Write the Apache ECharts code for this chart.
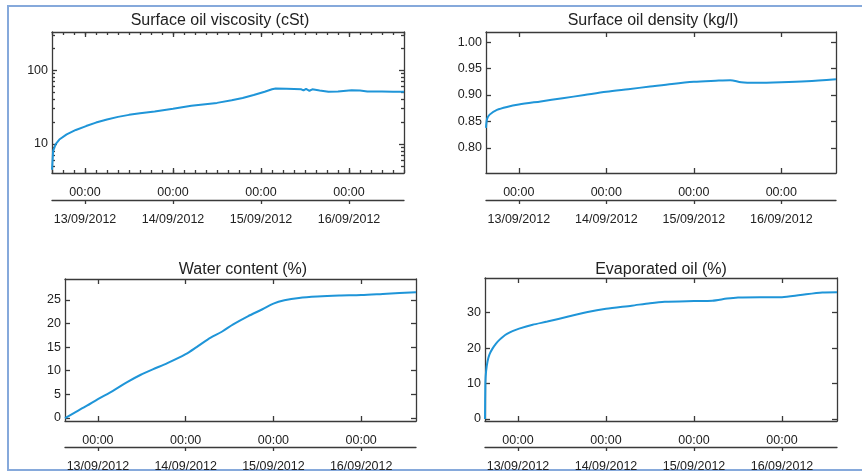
<!DOCTYPE html>
<html>
<head>
<meta charset="utf-8">
<script src="https://cdn.jsdelivr.net/npm/echarts@6/dist/echarts.min.js"></script>
<style>html,body{margin:0;padding:0;background:#fff}#c{width:862px;height:473px}</style>
</head>
<body>
<div id="c"></div>
<script>
// ---------- data ----------
const titles = ['Surface oil viscosity (cSt)', 'Surface oil density (kg/l)', 'Water content (%)', 'Evaporated oil (%)'];
const startDate = [2012, 9, 12, 15];      // 12/09/2012 15:00
const spanHours = 96;                     // until 16/09/2012 15:00
const dayTicks = ['2012-09-13', '2012-09-14', '2012-09-15', '2012-09-16'];

const viscHours  = [0, 0.3, 1, 2, 4, 6.5, 9.3, 12, 15, 18, 21, 24, 28, 33, 38, 45, 49, 52, 55, 58, 60, 61, 64, 66, 68, 68.6, 69.3, 70.2, 71, 73, 75.4, 78, 81.7, 84, 86, 90, 93, 96];
const viscValues = [4.5, 8, 10, 11.5, 13.5, 15.5, 17.5, 19.5, 21.5, 23.3, 24.8, 26, 27.5, 30, 33, 36, 39, 42, 46, 51, 55, 56.5, 56, 55.5, 55, 53, 55.5, 52.5, 55, 53, 51, 51.5, 53.5, 53, 51.5, 51.5, 51, 51];
const viscTicks  = [10, 100];
const viscMinorTicks = [5, 6, 7, 8, 9, 20, 30, 40, 50, 60, 70, 80, 90, 200, 300];

const densHours  = [0, 0.3, 1, 3, 6, 9, 15, 21, 27, 33, 39, 45, 51, 57, 63, 67, 70, 74, 81, 88, 96];
const densValues = [0.838, 0.855, 0.863, 0.872, 0.878, 0.882, 0.888, 0.894, 0.900, 0.906, 0.911, 0.916, 0.921, 0.925, 0.927, 0.928, 0.924, 0.923, 0.924, 0.926, 0.930];
const densTicks  = [0.80, 0.85, 0.90, 0.95, 1.00];

const waterHours  = [0, 3, 6, 9, 13, 17, 20.6, 24, 28, 33, 36, 39, 43, 46, 50, 54, 57, 60, 64, 69, 75, 81, 88, 96];
const waterValues = [0, 1.3, 2.6, 4.0, 5.7, 7.6, 9.1, 10.3, 11.6, 13.5, 15.0, 16.6, 18.3, 19.8, 21.5, 23.0, 24.2, 24.9, 25.4, 25.7, 25.9, 26.0, 26.3, 26.6];
const waterTicks  = [0, 5, 10, 15, 20, 25];

const evapHours  = [0, 0.1, 0.3, 0.7, 1.2, 2, 3, 4, 5, 6, 7.5, 9.3, 13, 17, 23, 28, 33, 40, 45, 49, 57, 62, 66, 69, 75, 81, 86, 92, 96];
const evapValues = [0, 10, 13.5, 16.3, 18.2, 19.8, 21.3, 22.4, 23.3, 24, 24.8, 25.5, 26.6, 27.5, 29, 30.2, 31.1, 32, 32.7, 33.1, 33.3, 33.4, 34.0, 34.3, 34.4, 34.4, 35.0, 35.7, 35.8];
const evapTicks  = [0, 10, 20, 30];

// ---------- helpers ----------
const HOUR = 3600 * 1000;
const START = new Date(startDate[0], startDate[1] - 1, startDate[2], startDate[3]).getTime();
const END = START + spanHours * HOUR;
const toTs = h => START + h * HOUR;
const dayTickMs = dayTicks.map(s => { const p = s.split('-').map(Number); return new Date(p[0], p[1] - 1, p[2]).getTime(); });
const minorXTicks = [];
for (let h = 0; h <= spanHours; h += 3) minorXTicks.push(toTs(h));
const pad = n => (n < 10 ? '0' : '') + n;
const fmtTime = v => { const d = new Date(v); return pad(d.getHours()) + ':' + pad(d.getMinutes()); };
const fmtDate = v => { const d = new Date(v); return pad(d.getDate()) + '/' + pad(d.getMonth() + 1) + '/' + d.getFullYear(); };

const FONT = 'Liberation Sans, Arial, Helvetica, sans-serif';
const TEXT = '#222';
const AXIS = '#3a3a3a';
const LINE = '#1f95d8';

const panels = [
  { grid: {left: 52, top: 32, width: 352, height: 141}, titleX: 220, titleY: 13, hours: viscHours, values: viscValues,
    yType: 'log', yMin: 4.06, yMax: 327, yTicks: viscTicks, yMinor: viscMinorTicks, xMinor: true, dateOffset: 27, fmt: v => String(v), smooth: false },
  { grid: {left: 486, top: 32, width: 350, height: 141}, titleX: 653, titleY: 13, hours: densHours, values: densValues,
    yType: 'value', yMin: 0.7528, yMax: 1.019, yTicks: densTicks, yMinor: null, xMinor: false, dateOffset: 27, fmt: v => v.toFixed(2), smooth: 0.3 },
  { grid: {left: 65, top: 279, width: 351, height: 143}, titleX: 243, titleY: 262, hours: waterHours, values: waterValues,
    yType: 'value', yMin: -0.63, yMax: 29.4, yTicks: waterTicks, yMinor: null, xMinor: false, dateOffset: 26, fmt: v => String(v), smooth: 0.3 },
  { grid: {left: 485, top: 278, width: 352, height: 144}, titleX: 661, titleY: 262, hours: evapHours, values: evapValues,
    yType: 'value', yMin: -0.56, yMax: 39.8, yTicks: evapTicks, yMinor: null, xMinor: false, dateOffset: 26, fmt: v => String(v), smooth: 0.25 }
];

const grids = [], xAxes = [], yAxes = [], series = [], title = [];
const lineStyle = {color: AXIS, width: 1.3};
const label = {color: TEXT, fontSize: 12.5, fontFamily: FONT};

panels.forEach((p, i) => {
  grids.push(Object.assign({containLabel: false}, p.grid));
  title.push({text: titles[i], left: p.titleX, top: p.titleY, textAlign: 'center', padding: 0,
    textStyle: {fontSize: 16, fontWeight: 'normal', color: TEXT, fontFamily: FONT}});
  const baseX = {type: 'value', gridIndex: i, min: START, max: END, splitLine: {show: false}};
  const xMain = xAxes.length;
  xAxes.push(Object.assign({}, baseX, {position: 'bottom',
    axisLine: {show: true, onZero: false, lineStyle},
    axisTick: {show: true, inside: true, length: 5, customValues: dayTickMs, lineStyle},
    axisLabel: Object.assign({show: true, customValues: dayTickMs, formatter: fmtTime, margin: 13}, label)}));
  xAxes.push(Object.assign({}, baseX, {position: 'bottom', offset: p.dateOffset,
    axisLine: {show: true, onZero: false, lineStyle},
    axisTick: {show: true, inside: false, length: 4, customValues: dayTickMs, lineStyle},
    axisLabel: Object.assign({show: true, customValues: dayTickMs, formatter: fmtDate, margin: 13}, label)}));
  xAxes.push(Object.assign({}, baseX, {position: 'top',
    axisLine: {show: true, onZero: false, lineStyle},
    axisTick: {show: true, inside: true, length: 5, customValues: dayTickMs, lineStyle},
    axisLabel: {show: false}}));
  if (p.xMinor) {
    ['bottom', 'top'].forEach(pos => xAxes.push(Object.assign({}, baseX, {position: pos,
      axisLine: {show: false, onZero: false},
      axisTick: {show: true, inside: true, length: 3, customValues: minorXTicks, lineStyle},
      axisLabel: {show: false}})));
  }
  const baseY = {type: p.yType, gridIndex: i, min: p.yMin, max: p.yMax, splitLine: {show: false}};
  const yMain = yAxes.length;
  yAxes.push(Object.assign({}, baseY, {position: 'left',
    axisLine: {show: true, onZero: false, lineStyle},
    axisTick: {show: true, inside: true, length: 5, customValues: p.yTicks, lineStyle},
    axisLabel: Object.assign({show: true, customValues: p.yTicks, formatter: p.fmt, margin: 4}, label)}));
  yAxes.push(Object.assign({}, baseY, {position: 'right',
    axisLine: {show: true, onZero: false, lineStyle},
    axisTick: {show: true, inside: true, length: 5, customValues: p.yTicks, lineStyle},
    axisLabel: {show: false}}));
  if (p.yMinor) {
    ['left', 'right'].forEach(pos => yAxes.push(Object.assign({}, baseY, {position: pos,
      axisLine: {show: false, onZero: false},
      axisTick: {show: true, inside: true, length: 3, customValues: p.yMinor, lineStyle},
      axisLabel: {show: false}})));
  }
  series.push({type: 'line', xAxisIndex: xMain, yAxisIndex: yMain, showSymbol: false,
    smooth: p.smooth,
    lineStyle: {color: LINE, width: 2}, itemStyle: {color: LINE},
    data: p.hours.map((h, k) => [toTs(h), p.values[k]])});
});

const chart = echarts.init(document.getElementById('c'), null, {renderer: 'canvas'});
chart.setOption({
  animation: false,
  backgroundColor: '#fff',
  title, grid: grids, xAxis: xAxes, yAxis: yAxes, series,
  graphic: [{type: 'polyline', silent: true,
    shape: {points: [[862, 6], [8, 6], [8, 470], [862, 470]]},
    style: {stroke: '#86a9db', lineWidth: 2, fill: null}}]
});
</script>
</body>
</html>
